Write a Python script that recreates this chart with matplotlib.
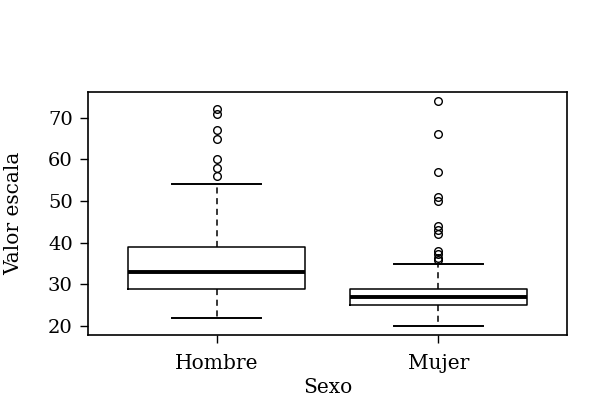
import matplotlib
matplotlib.use("Agg")
import matplotlib.pyplot as plt

categories = ["Hombre", "Mujer"]
q1 = [29, 25]
medians = [33, 27]
q3 = [39, 29]
whisker_low = [22, 20]
whisker_high = [54, 35]
outliers = [
    [56, 58, 60, 65, 67, 71, 72],
    [35.8, 36.4, 37.2, 38, 42, 43, 44, 50, 51, 57, 66, 74],
]
y_ticks = [20, 30, 40, 50, 60, 70]

plt.rcParams["font.family"] = ["DejaVu Serif"]

fig = plt.figure(figsize=(6, 4.16), dpi=100)
ax = fig.add_axes([88 / 600, 81 / 416, 479 / 600, 243 / 416])

stats = []
for i, c in enumerate(categories):
    stats.append(dict(label=c, med=medians[i], q1=q1[i], q3=q3[i],
                      whislo=whisker_low[i], whishi=whisker_high[i],
                      fliers=outliers[i]))

ax.bxp(stats, positions=[1, 2], widths=0.8, capwidths=0.4,
       boxprops=dict(color="black", linewidth=1.1),
       medianprops=dict(color="black", linewidth=2.8),
       whiskerprops=dict(color="black", linewidth=1.1, linestyle=(0, (4, 3))),
       capprops=dict(color="black", linewidth=1.4),
       flierprops=dict(marker="o", markerfacecolor="none", markeredgecolor="black",
                       markersize=5.5, markeredgewidth=1.0))

ax.set_xlim(0.42, 2.58)
ax.set_ylim(17.84, 76.16)
ax.set_yticks(y_ticks)
ax.set_xticks([1, 2])
ax.set_xticklabels(categories, fontsize=14.5)
ax.tick_params(axis="y", labelsize=14, length=6, width=1, pad=5)
ax.tick_params(axis="x", length=6, width=1, pad=8)
for s in ax.spines.values():
    s.set_linewidth(1.2)
ax.set_xlabel("Sexo", fontsize=14.5, labelpad=3)
ax.set_ylabel("Valor escala", fontsize=14.5, labelpad=18)

fig.savefig("out.png", dpi=100)
